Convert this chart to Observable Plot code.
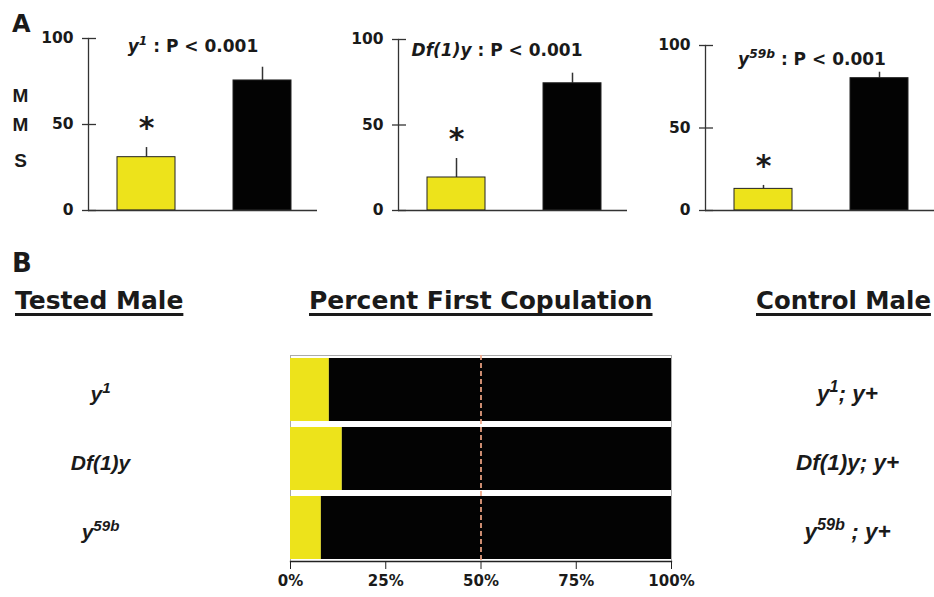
<!DOCTYPE html>
<html><head><meta charset="utf-8">
<script src="https://cdn.jsdelivr.net/npm/d3@7"></script>
<script src="https://cdn.jsdelivr.net/npm/@observablehq/plot@0.6"></script>
<style>
body{margin:0;background:#fff}
#root{position:relative;width:934px;height:597px;overflow:hidden;background:#fff;color:#1a1a1a}
#root svg{position:absolute}
.lbl{position:absolute;line-height:1;white-space:nowrap;font-weight:bold;color:#1a1a1a}
.dj{font-family:"DejaVu Sans"}
.lib{font-family:"Liberation Sans"}
.hdr{font-family:"DejaVu Sans";text-decoration:underline;text-decoration-thickness:3px;text-underline-offset:4px;text-decoration-skip-ink:none}
</style></head><body><div id="root"></div>
<script>
// ---------- data ----------
const groups = ["tested", "control"];
const panelTitles = ["_{y}^{1} : P < 0.001", "_{Df(1)y} : P < 0.001", "_{y}^{59b} : P < 0.001"];
const mmsTested = [31.0, 19.3, 13.1];
const mmsTestedErr = [36.6, 30.4, 15.2];
const mmsControl = [75.6, 74.4, 80.2];
const mmsControlErr = [83.3, 80.3, 83.8];
const significant = [true, true, true];
const mmsTicks = [0, 50, 100];

const testedMales = ["y^{1}", "Df(1)y", "y^{59b}"];
const controlMales = ["y^{1}; y+", "Df(1)y; y+", "y^{59b} ; y+"];
const firstTested = [10.2, 13.6, 8.1];
const firstControl = [89.8, 86.4, 91.9];
const pctTicks = [0, 25, 50, 75, 100];
const halfLine = [50];

// ---------- styling ----------
const YELLOW = "#ede31b", BLACK = "#030303", INK = "#1a1a1a", AXIS = "#333";
const root = document.getElementById("root");
const SVGNS = "http://www.w3.org/2000/svg";

function rich(svg) {
  svg.querySelectorAll("text").forEach(t => {
    const targets = t.querySelectorAll("tspan").length ? [...t.querySelectorAll("tspan")] : [t];
    for (const n of targets) {
      const s = n.textContent;
      if (!/[\^_]\{/.test(s)) continue;
      n.textContent = "";
      const re = /([\^_])\{([^}]*)\}|([^\^_]+)/g;
      let m;
      while ((m = re.exec(s))) {
        const ts = document.createElementNS(SVGNS, "tspan");
        if (m[3] != null) ts.textContent = m[3];
        else {
          ts.textContent = m[2];
          ts.setAttribute("font-style", "italic");
          if (m[1] === "^") { ts.setAttribute("font-size", "72%"); ts.setAttribute("baseline-shift", "super"); }
        }
        n.appendChild(ts);
      }
    }
  });
}
function place(svg, left, top) {
  svg.style.left = left + "px"; svg.style.top = top + "px";
  rich(svg); root.appendChild(svg);
}
function label(text, cls, left, top, size, extra = "") {
  const d = document.createElement("div");
  d.className = "lbl " + cls; d.textContent = text;
  d.style.cssText += `left:${left}px;top:${top}px;font-size:${size}px;${extra}`;
  root.appendChild(d);
}

// ---------- panel A ----------
const layoutA = [
  {left: 0, top: 38, tdx: -10, tdy: 1},
  {left: 310, top: 39, tdx: -16, tdy: 4},
  {left: 617, top: 45, tdx: -8, tdy: 7}
];
layoutA.forEach((L, i) => {
  const data = [
    {group: "tested", value: mmsTested[i], err: mmsTestedErr[i], sig: significant[i]},
    {group: "control", value: mmsControl[i], err: mmsControlErr[i], sig: false}
  ];
  const svg = Plot.plot({
    width: 317, height: 230, marginLeft: 88, marginRight: 0, marginTop: L.top, marginBottom: 20,
    style: {background: "transparent", overflow: "visible", color: INK},
    x: {type: "band", domain: groups, range: [59, 349], padding: 0.5, axis: null},
    y: {domain: [0, 100], axis: null},
    color: {domain: groups, range: [YELLOW, BLACK]},
    marks: [
      Plot.ruleX(data, {x: "group", y1: "value", y2: "err", stroke: AXIS, strokeWidth: 1.5}),
      Plot.barY(data, {x: "group", y: "value", fill: "group", stroke: "#222", strokeWidth: 1}),
      Plot.frame({anchor: "left", stroke: AXIS, strokeWidth: 1.3}),
      Plot.ruleY([0], {stroke: AXIS, strokeWidth: 1.3}),
      Plot.axisY(mmsTicks, {tickSize: 14, dx: 8, tickFormat: () => "", stroke: AXIS, strokeWidth: 1.3, label: null}),
      Plot.axisY(mmsTicks, {tickSize: 0, tickPadding: 15, fontSize: 15.5, fontFamily: "DejaVu Sans", fontWeight: "bold", fill: INK, label: null}),
      Plot.text(data.filter(d => d.sig), {x: "group", y: "err", text: () => "*", dy: -19, fontSize: 30, fontFamily: "DejaVu Sans", fontWeight: "bold", fill: INK}),
      Plot.text([panelTitles[i]], {text: d => d, frameAnchor: "top", dx: L.tdx, dy: L.tdy, fontSize: 17, fontFamily: "DejaVu Sans", fontWeight: "bold", fill: INK})
    ]
  });
  place(svg, L.left, 0);
});

// ---------- panel B ----------
const rowsB = testedMales.map((t, i) => ({tested: t, control: controlMales[i]}));
const segs = [];
testedMales.forEach((t, i) => {
  segs.push({row: t, kind: "tested", pct: firstTested[i]});
  segs.push({row: t, kind: "control", pct: firstControl[i]});
});
const svgB = Plot.plot({
  width: 934, height: 257, marginLeft: 290, marginRight: 263, marginTop: 15, marginBottom: 36,
  style: {background: "transparent", overflow: "visible", color: INK},
  x: {domain: [0, 100], axis: null},
  y: {type: "band", domain: testedMales, paddingInner: 0.09, paddingOuter: 0.02, axis: null},
  color: {domain: groups, range: [YELLOW, BLACK]},
  marks: [
    Plot.frame({stroke: "#aaa"}),
    Plot.barX(segs, {y: "row", x: "pct", fill: "kind"}),
    Plot.ruleX(halfLine, {stroke: "#f0a585", strokeWidth: 1.7, strokeDasharray: "5,3"}),
    Plot.frame({anchor: "bottom", stroke: "#222", strokeWidth: 1.3}),
    Plot.axisX(pctTicks, {tickSize: 8, tickPadding: 6, tickFormat: d => d + "%", fontSize: 15, fontFamily: "DejaVu Sans", fontWeight: "bold", stroke: "#222", fill: INK, label: null}),
    Plot.text(rowsB, {y: "tested", text: "tested", frameAnchor: "left", textAnchor: "middle", dx: -190, dy: 4, fontSize: 21, fontStyle: "italic", fontFamily: "Liberation Sans", fontWeight: "bold", fill: INK}),
    Plot.text(rowsB, {y: "tested", text: "control", frameAnchor: "right", textAnchor: "middle", dx: 176, dy: 4, fontSize: 22.5, fontStyle: "italic", fontFamily: "Liberation Sans", fontWeight: "bold", fill: INK})
  ]
});
place(svgB, 0, 340);

// ---------- text labels ----------
label("A", "dj", 12, 12, 24);
label("B", "dj", 12, 250, 26);
label("M", "lib", 11, 86, 19, "width:19px;text-align:center");
label("M", "lib", 11, 115, 19, "width:19px;text-align:center");
label("S", "lib", 11, 151, 19, "width:19px;text-align:center");
label("Tested Male", "hdr", 15, 288, 25);
label("Percent First Copulation", "hdr", 309, 288, 25);
label("Control Male", "hdr", 756, 288.5, 24.4);
</script></body></html>
